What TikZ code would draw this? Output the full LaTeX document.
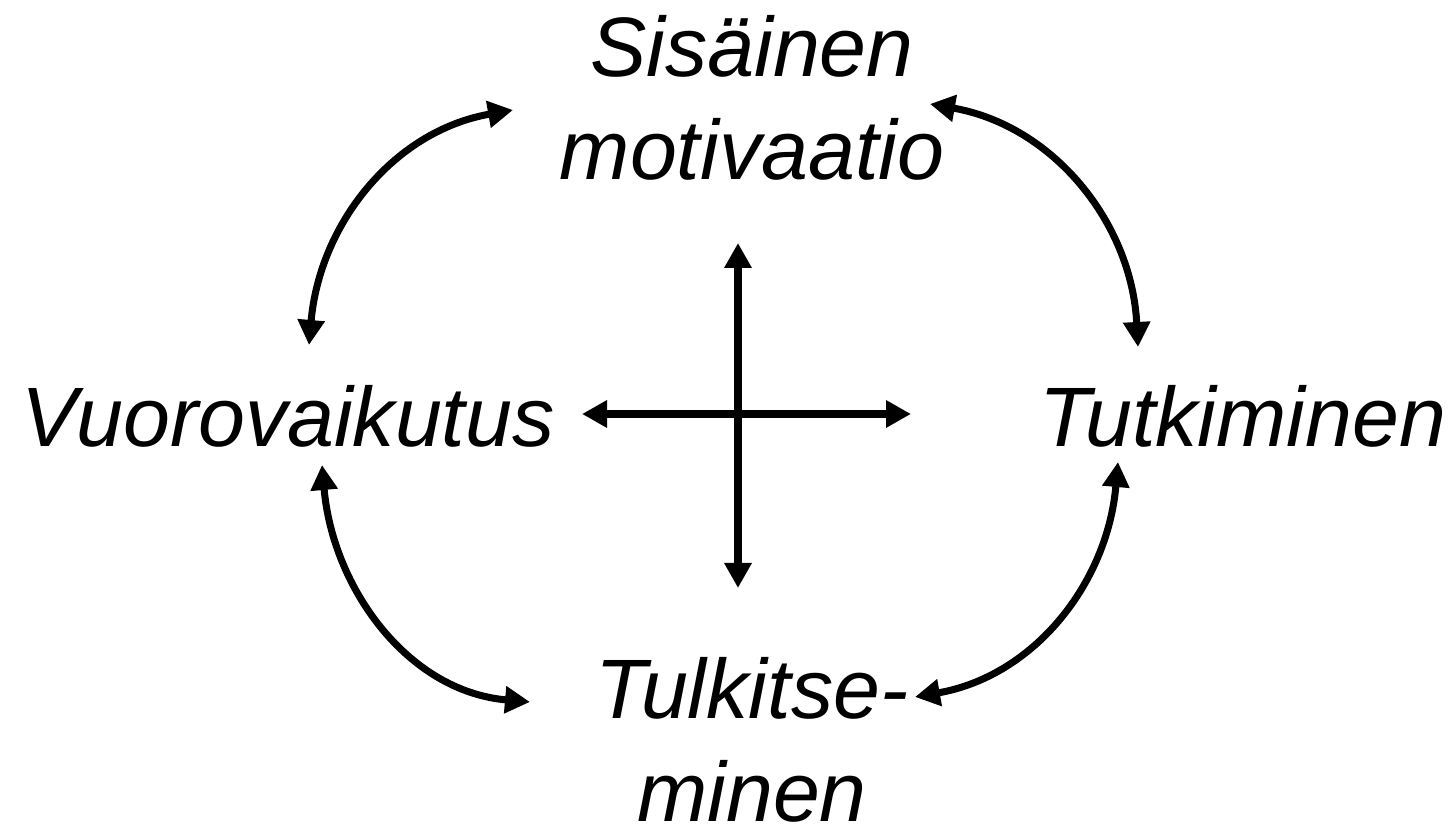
\documentclass[tikz,border=0pt]{standalone}
\usepackage{fontspec}
\setmainfont{Liberation Sans}
\usetikzlibrary{arrows.meta}

\begin{document}
\begin{tikzpicture}[
  term/.style={font=\fontsize{24}{29.5}\selectfont\itshape, align=center,
               inner sep=0pt},
  arr/.style={{Triangle[length=2.5mm,width=2.6mm]}-{Triangle[length=2.5mm,width=2.6mm]},
              line width=2pt}
]
\useasboundingbox (0,0) rectangle (14.54,8.29);

% the four terms
\node[term, anchor=base] (sis) at (7.52,6.49) {Sisäinen\\motivaatio};
\node[term, anchor=base] (vuoro) at (2.88,3.82) {Vuorovaikutus};
\node[term, anchor=base] (tutk) at (12.43,3.82) {Tutkiminen};
\node[term, anchor=base] (tulk) at (7.52,0.07) {Tulkitse-\\minen};

% ends of the curved arrows
\coordinate (vuoroN) at (3.09,4.84);
\coordinate (sisW) at (5.13,7.19);
\coordinate (sisE) at (9.30,7.25);
\coordinate (tutkN) at (11.38,4.82);
\coordinate (vuoroS) at (3.22,3.64);
\coordinate (tulkW) at (5.30,1.27);
\coordinate (tutkS) at (11.18,3.67);
\coordinate (tulkE) at (9.15,1.32);

% ends of the cross
\coordinate (up) at (7.38,5.86);
\coordinate (down) at (7.38,2.41);
\coordinate (left) at (5.82,4.15);
\coordinate (right) at (9.11,4.15);

\draw[arr] (vuoroN) to[out=85, in=190] (sisW);
\draw[arr] (sisE) to[out=-10, in=93] (tutkN);
\draw[arr] (vuoroS) to[out=-85, in=175] (tulkW);
\draw[arr] (tutkS) to[out=-95, in=10] (tulkE);

\draw[arr] (up) -- (down);
\draw[arr] (left) -- (right);
\end{tikzpicture}
\end{document}
